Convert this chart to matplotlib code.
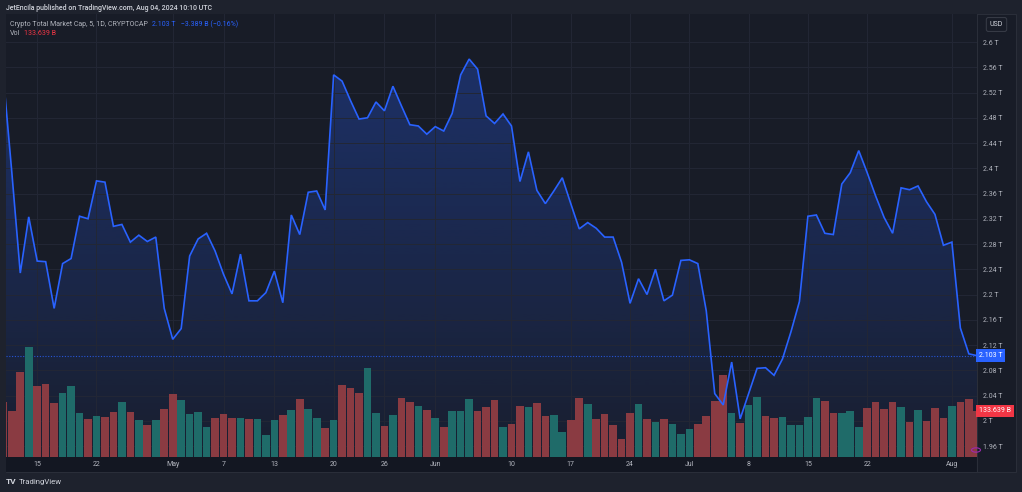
import numpy as np
import pandas as pd
import matplotlib.pyplot as plt
import matplotlib.dates as mdates
from matplotlib.patches import Rectangle, Circle
from matplotlib.colors import to_rgb
from matplotlib.transforms import blended_transform_factory

plt.rcParams['font.family'] = ['Roboto', 'DejaVu Sans']

# daily total crypto market cap (T USD), Apr 11 .. Aug 4 2024
mcap = [2.546, 2.394, 2.234, 2.323, 2.253, 2.252, 2.178, 2.249, 2.257, 2.324,
        2.320, 2.380, 2.378, 2.308, 2.311, 2.283, 2.294, 2.284, 2.291, 2.178,
        2.129, 2.146, 2.261, 2.288, 2.297, 2.269, 2.232, 2.201, 2.264, 2.190,
        2.190, 2.203, 2.237, 2.187, 2.326, 2.295, 2.362, 2.364, 2.334, 2.548,
        2.538, 2.507, 2.478, 2.480, 2.505, 2.491, 2.530, 2.499, 2.469, 2.467,
        2.454, 2.466, 2.459, 2.487, 2.548, 2.573, 2.557, 2.483, 2.471, 2.486,
        2.467, 2.379, 2.426, 2.365, 2.344, 2.364, 2.385, 2.344, 2.304, 2.314,
        2.305, 2.291, 2.291, 2.251, 2.186, 2.225, 2.200, 2.240, 2.190, 2.199,
        2.254, 2.255, 2.249, 2.174, 2.043, 2.025, 2.093, 2.003, 2.043, 2.083,
        2.084, 2.072, 2.098, 2.141, 2.189, 2.324, 2.326, 2.297, 2.295, 2.375,
        2.393, 2.428, 2.393, 2.356, 2.322, 2.297, 2.369, 2.366, 2.372, 2.347,
        2.327, 2.278, 2.283, 2.147, 2.106, 2.103]

# daily volume (B USD)
vol = [160.5, 133.6, 247.0, 319.2, 206.6, 212.4, 157.6, 186.4, 205.8, 128.7,
       109.7, 119.2, 117.2, 130.7, 159.6, 130.7, 106.8, 93.2, 107.6, 138.5,
       181.8, 165.4, 124.1, 130.7, 87.4, 114.3, 124.1, 112.3, 113.4, 110.5,
       110.5, 64.4, 106.8, 122.1, 137.4, 167.4, 139.4, 114.3, 85.4, 107.6,
       208.7, 199.1, 184.7, 256.9, 127.0, 91.2, 122.9, 170.3, 159.6, 148.1,
       135.6, 112.6, 86.6, 134.5, 133.6, 168.3, 133.6, 144.3, 165.4, 86.6,
       96.1, 148.9, 145.2, 156.7, 119.2, 122.1, 73.0, 106.8, 171.1, 153.0,
       109.7, 125.0, 93.2, 52.8, 127.9, 153.8, 110.5, 102.7, 109.7, 95.2,
       66.4, 80.8, 95.2, 119.2, 162.5, 238.4, 127.0, 98.1, 150.9, 174.9,
       119.2, 114.3, 116.3, 92.4, 94.1, 117.2, 171.1, 162.5, 127.9, 127.0,
       133.6, 86.6, 142.3, 159.6, 139.4, 159.6, 145.2, 101.9, 135.6, 104.8,
       143.1, 114.3, 147.2, 160.5, 168.3, 133.639]

# bar direction: g = up day, r = down day
vol_dir = ("rrrgrrrggg" "rgrrgrgrgr" "rggggrrrgr" "gggrgrggrg"
           "rrrggrgrrg" "rgrgggrrrg" "rrgrrggrrg" "rrrrrgrgrg"
           "ggrrrrgrgg" "rrgggggrrg" "ggrrrrgrgr" "rrgrrr")

price_ticks = [1.96, 2.0, 2.04, 2.08, 2.12, 2.16, 2.2, 2.24, 2.28, 2.32,
               2.36, 2.4, 2.44, 2.48, 2.52, 2.56, 2.6]
date_ticks = ['2024-04-15', '2024-04-22', '2024-05-01', '2024-05-07', '2024-05-13',
              '2024-05-20', '2024-05-26', '2024-06-01', '2024-06-10', '2024-06-17',
              '2024-06-24', '2024-07-01', '2024-07-08', '2024-07-15', '2024-07-22',
              '2024-08-01']
date_labels = ['15', '22', 'May', '7', '13', '20', '26', 'Jun', '10', '17', '24',
               'Jul', '8', '15', '22', 'Aug']

dates = pd.date_range('2024-04-11', periods=len(mcap), freq='D')
x = mdates.date2num(dates)

W, H = 1022, 492
def fx(px):
    return px / W
def fy(py):
    return 1 - py / H

outer = '#1e222d'
pane = '#181c27'
grid = '#232735'
txt = '#b2b5be'
blue = '#2962ff'
fs = 5.0

fig = plt.figure(figsize=(W / 100, H / 100), dpi=100, facecolor=outer)

# panels behind the axes
fig.add_artist(Rectangle((fx(5.7), fy(472)), fx(1016 - 5.7), (472 - 14) / H,
                         transform=fig.transFigure, fc=pane, ec='#2a2e39', lw=0.8, zorder=-2))
fig.add_artist(Rectangle((fx(5.7), fy(472)), fx(977 - 5.7), (472 - 457.3) / H,
                         transform=fig.transFigure, fc='#131722', ec='none', zorder=-1))
fig.add_artist(plt.Line2D([fx(977), fx(977)], [fy(472), fy(14)],
                          transform=fig.transFigure, color='#2a2e39', lw=0.8, zorder=-1))

ax = fig.add_axes([fx(5.7), fy(457.3), (976.7 - 5.7) / W, (457.3 - 14) / H])
ax.set_facecolor(pane)
ylo, yhi = 1.9421, 2.6444
x0, x1 = x[0] + 0.28, x[0] + 114.93

# gradient area under the line
poly = ax.fill_between(x, mcap, ylo, color='none', lw=0)
rgba = np.zeros((256, 1, 4))
rgba[..., :3] = to_rgb(blue)
rgba[..., 3] = np.linspace(0.30, 0.04, 256)[:, None]
im = ax.imshow(rgba, extent=[x[0], x[-1], ylo, max(mcap)], aspect='auto',
               origin='upper', zorder=1, interpolation='bilinear')
im.set_clip_path(poly.get_paths()[0], transform=ax.transData)
ax.axhline(2.103, color=blue, lw=0.8, ls=(0, (1, 1.5)), alpha=0.8, zorder=2)

ax.set_xlim(x0, x1)
ax.set_ylim(ylo, yhi)
ax.set_yticks(price_ticks)
ax.set_xticks(mdates.date2num(pd.to_datetime(date_ticks)))
ax.set_xticklabels(date_labels)
ax.tick_params(axis='x', length=0, pad=3, labelsize=fs, labelcolor=txt)
ax.tick_params(axis='y', left=False, labelleft=False, length=0)
ax.grid(True, color=grid, lw=0.7, zorder=0)
for s in ax.spines.values():
    s.set_visible(False)

# volume overlay
axv = ax.twinx()
axv.set_ylim(0, 1279.4)
cols = ['#1f6b69' if c == 'g' else '#8a3b42' for c in vol_dir]
axv.bar(x, vol, width=0.9, color=cols, lw=0, zorder=2)
axv.set_yticks([])
axv.patch.set_visible(False)
for s in axv.spines.values():
    s.set_visible(False)
axv.set_xlim(x0, x1)

# line layer with price scale
axl = ax.twinx()
axl.set_ylim(ylo, yhi)
axl.plot(x, mcap, color=blue, lw=1.2, zorder=3, solid_joinstyle='miter')
axl.set_xlim(x0, x1)
axl.set_yticks(price_ticks)
axl.set_yticklabels([f"{t:.2f}".rstrip('0').rstrip('.') + ' T' for t in price_ticks])
axl.tick_params(axis='y', length=0, pad=4.5, labelsize=fs, labelcolor=txt)
axl.patch.set_visible(False)
for s in axl.spines.values():
    s.set_visible(False)

tr = blended_transform_factory(axl.transAxes, axl.transData)
axl.text(1.0025, mcap[-1], f"{mcap[-1]:.3f} T", transform=tr, fontsize=fs,
         color='white', va='center', ha='left', clip_on=False,
         bbox=dict(boxstyle='square,pad=0.4', fc=blue, ec='none'))
trv = blended_transform_factory(axv.transAxes, axv.transData)
axv.text(1.0025, vol[-1], f"{vol[-1]:.3f} B", transform=trv, fontsize=fs,
         color='white', va='center', ha='left', clip_on=False,
         bbox=dict(boxstyle='square,pad=0.4', fc='#f23645', ec='none'))

# header and legend
fig.text(fx(6.5), fy(8), "JetEncila published on TradingView.com, Aug 04, 2024 10:10 UTC",
         fontsize=fs, color='#d1d4dc', fontweight='medium', va='center')
t1 = fig.text(fx(10), fy(24), "Crypto Total Market Cap, 5, 1D, CRYPTOCAP",
              fontsize=fs, color=txt, va='center')
fig.add_artist(plt.Annotation("2.103 T   \u22123.389 B (\u22120.16%)", xy=(1, 0.5),
                              xycoords=t1, xytext=(3, 0), textcoords='offset points',
                              fontsize=fs, color=blue, va='center'))
t2 = fig.text(fx(10), fy(33), "Vol", fontsize=fs, color=txt, va='center')
fig.add_artist(plt.Annotation("133.639 B", xy=(1, 0.5), xycoords=t2, xytext=(3, 0),
                              textcoords='offset points', fontsize=fs, color='#f23645',
                              va='center'))
fig.text(fx(996.5), fy(24.5), "USD", fontsize=fs, color='#d1d4dc', va='center', ha='center',
         bbox=dict(boxstyle='round,pad=0.5,rounding_size=0.3', fc=pane, ec='#363a45', lw=0.8))
fig.add_artist(Circle((fx(976), fy(450)), 4.5 / W, transform=fig.transFigure,
                      fc='none', ec='#9c27b0', lw=0.8, zorder=5))

# footer
fig.text(fx(6), fy(482), "TV", fontsize=6, color='#d1d4dc', fontweight='bold', va='center')
fig.text(fx(19), fy(482), "TradingView", fontsize=5.6, color='#d1d4dc', va='center')

fig.savefig('out.png', dpi=100, facecolor=fig.get_facecolor())
